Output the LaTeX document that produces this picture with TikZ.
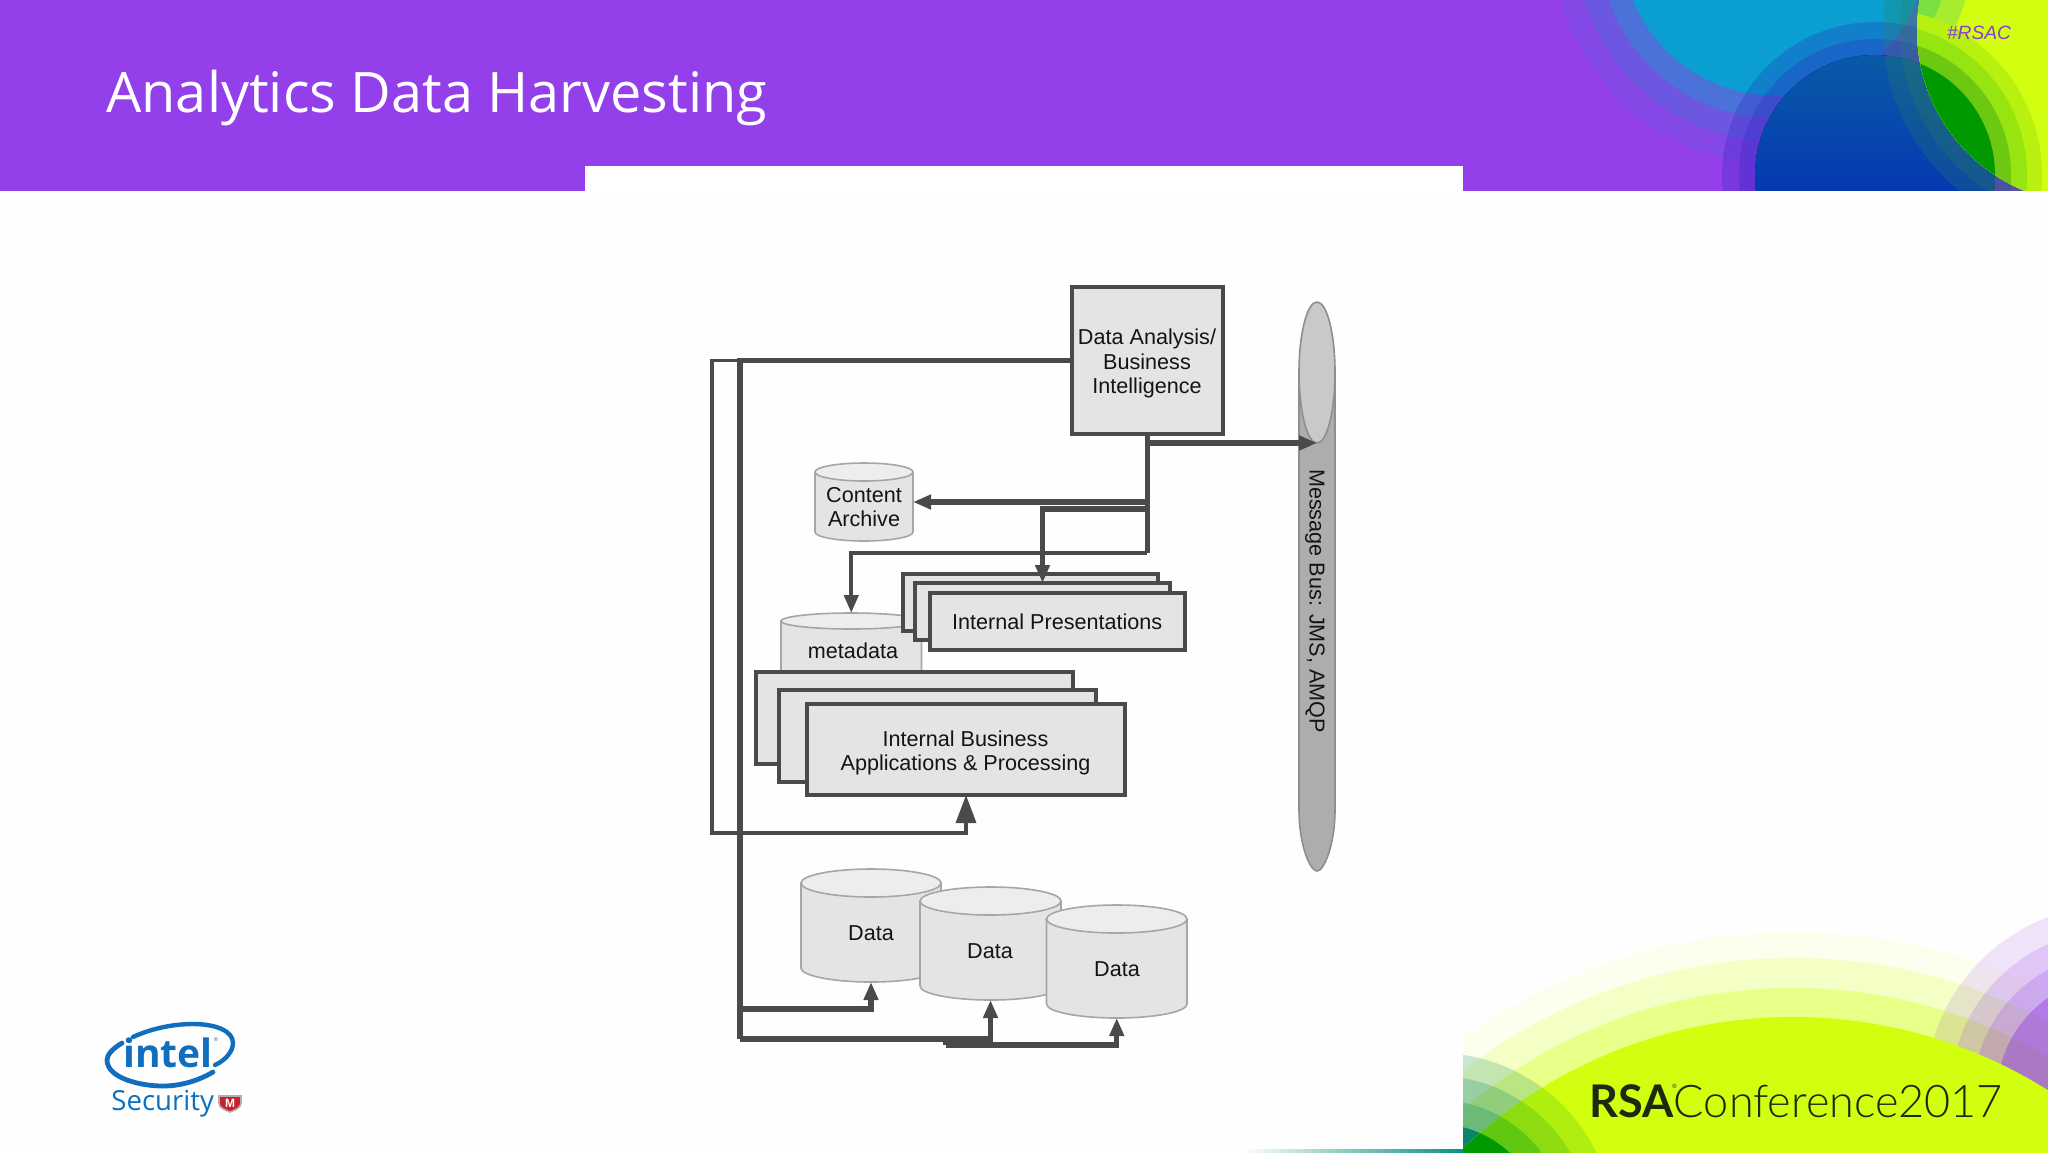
\documentclass[tikz,border=0pt]{standalone}
\usepackage{fontspec}
\setmainfont{Liberation Sans}
\newfontfamily\titlefont{Open Sans}
\newfontfamily\logofont{Open Sans}
\newfontfamily\rsalight{Lato Light}
\newfontfamily\rsabold{Lato}
\usetikzlibrary{arrows.meta,shapes.geometric}
\definecolor{hdrpurple}{HTML}{9340EA}
\definecolor{cyancore}{HTML}{0A9FD0}
\definecolor{ink}{HTML}{4A4A4A}
\definecolor{boxfill}{HTML}{E4E3E6}
\definecolor{cyllt}{HTML}{EDEDEF}
\definecolor{cylline}{HTML}{A6A6A6}
\definecolor{intelblue}{HTML}{0F6FBE}
\definecolor{lime}{HTML}{D2FF10}
\newcommand{\dc}[1]{\definecolor{c#1}{HTML}{#1}}
\dc{8448E6}\dc{6C58E0}\dc{4A72D8}\dc{2A20C0}\dc{0A5AA8}\dc{0020B8}\dc{2A8060}\dc{A8EC30}\dc{78E040}\dc{50C880}
\dc{B8F010}\dc{96E410}\dc{6CC810}\dc{009A00}\dc{8A3FD0}\dc{FCFFEE}\dc{F3FFC4}\dc{E8FF88}\dc{8C32E6}\dc{00806A}
\dc{B0EE10}\dc{8EDC10}\dc{60C810}\dc{0A9080}\dc{1E2A10}\dc{C8202E}\dc{B0B0B0}\dc{ADADAD}\dc{8E8E8E}\dc{C9C9C9}
\newcommand{\fs}[1]{\fontsize{#1}{#1}\selectfont}
\newcommand{\cyl}[7]{% name,x1,x2,top,bot,ry,linew
  \pgfmathsetmacro{\cx}{(#2+#3)/2}\pgfmathsetmacro{\rx}{(#3-#2)/2}%
  \pgfmathsetmacro{\ta}{#4+#6}\pgfmathsetmacro{\ba}{#5-#6}%
  \pgfmathsetmacro{\ka}{\ba+0.55*#6}\pgfmathsetmacro{\kb}{\cx-0.55*\rx}\pgfmathsetmacro{\kc}{\cx+0.55*\rx}%
  \draw[cylbody,line width=#7] (#2,\ta) -- (#2,\ba) .. controls (#2,\ka) and (\kb,#5) .. (\cx,#5) .. controls (\kc,#5) and (#3,\ka) .. (#3,\ba) -- (#3,\ta) -- cycle;
  \draw[cyltop,line width=#7] (\cx,\ta) ellipse [x radius=\rx,y radius=#6];
  \pgfmathsetmacro{\cy}{(#4+#5)/2}%
  \node[cylslot,minimum width=(#3-#2)*0.5pt,minimum height=(#5-#4)*0.5pt] (#1) at (\cx,\cy) {};
}
\tikzset{
  x=0.5pt,y=-0.5pt,
  cylbody/.style={fill=boxfill,draw=cylline},
  cyltop/.style={fill=cyllt,draw=cylline},
  cylslot/.style={inner sep=0,outer sep=0,rectangle},
  lbl/.style={font=\fs{10.8},text=black!92,align=center,inner sep=0,outer sep=0},
  sheet/.style={draw=ink,fill=boxfill,line width=2pt,rectangle,inner sep=0,outer sep=0},
  wire/.style={draw=ink,line width=2.7pt,line join=miter},
  thinwire/.style={draw=ink,line width=1.7pt,line join=miter},
  tipsm/.style={-{Triangle[length=9pt,width=7pt]}},
  tiplg/.style={-{Triangle[length=14pt,width=10pt]}},
}
\begin{document}
\begin{tikzpicture}
\useasboundingbox (0,0) rectangle (2048,1152);
\fill[white!99.5!black] (0,0) rectangle (2048,1152);
% ---------- header
\begin{scope}
\clip (0,0) rectangle (2048,190.7);
\fill[hdrpurple] (0,0) rectangle (2048,190.7);
\fill[c8448E6] (1775,-58) circle [radius=222];
\fill[c6C58E0] (1775,-58) circle [radius=199];
\fill[c4A72D8] (1775,-58) circle [radius=176];
\fill[cyancore] (1775,-58) circle [radius=153.5];
\fill[c2A20C0,opacity=.25] (1875,175) circle [radius=153];
\fill[c2A20C0,opacity=.25] (1875,175) circle [radius=136];
\fill[top color=c0A5AA8,bottom color=c0020B8] (1875,175) circle [radius=120];
\fill[c2A8060,opacity=.25] (2091,30) circle [radius=208];
\fill[c2A8060,opacity=.25] (2091,30) circle [radius=191];
\begin{scope}
\clip (2091,30) circle [radius=174];
\fill[lime] (1880,-20) rectangle (2048,191);
\fill[cA8EC30] (1775,-58) circle [radius=199];
\fill[c78E040] (1775,-58) circle [radius=176];
\fill[c50C880] (1775,-58) circle [radius=153.5];
\fill[cB8F010] (1875,175) circle [radius=167];
\fill[c96E410] (1875,175) circle [radius=152];
\fill[c6CC810] (1875,175) circle [radius=136];
\fill[c009A00] (1875,175) circle [radius=120];
\end{scope}
\end{scope}
\fill[white] (585,166) rectangle (1463,192);
\node[anchor=west,text=white,inner sep=0,font=\titlefont\fs{27.9}] (title) at (106,98) {Analytics Data Harvesting};
\node[text=c8A3FD0,inner sep=0,font=\itshape\fs{9.6}] (tag) at (1979,33) {\#RSAC};
% ---------- footer art
\begin{scope}
\clip (1463,900) rectangle (2048,1152);
\fill[cFCFFEE] (1793,1497) circle [radius=565];
\fill[cF3FFC4] (1793,1497) circle [radius=539];
\fill[cE8FF88] (1793,1497) circle [radius=509];
\fill[c8C32E6,opacity=.13] (2115,1095) circle [radius=190];
\fill[c8C32E6,opacity=.16] (2115,1095) circle [radius=165];
\fill[c8C32E6,opacity=.2] (2115,1095) circle [radius=142];
\fill[c8C32E6,opacity=.4] (2115,1095) circle [radius=118];
\fill[lime] (1793,1497) circle [radius=480];
\fill[c00806A,opacity=.2] (1437,1230) circle [radius=177];
\fill[c00806A,opacity=.22] (1437,1230) circle [radius=154];
\fill[c00806A,opacity=.25] (1437,1230) circle [radius=130];
\fill[c00806A,opacity=.9] (1437,1230) circle [radius=106];
\begin{scope}
\clip (1793,1497) circle [radius=480];
\fill[cB0EE10] (1437,1230) circle [radius=177];
\fill[c8EDC10] (1437,1230) circle [radius=154];
\fill[c60C810] (1437,1230) circle [radius=130];
\fill[c009A00] (1437,1230) circle [radius=106];
\end{scope}
\end{scope}
\fill[left color=white,right color=c0A9080] (1240,1149.5) rectangle (1463,1152);
\node[anchor=base west,inner sep=0,text=c1E2A10,font=\rsabold\bfseries\fs{22.5}] (rsa) at (1589,1117) {RSA\rlap{\kern-0.6pt\raisebox{14.5pt}{\normalfont\fs{3}®}}};
\node[anchor=base west,inner sep=0,text=c1E2A10,font=\rsalight\fs{22.5}] (conf) at (1673.5,1117) {Conference2017};
% ---------- intel logo
\draw[intelblue,line width=2.4pt,line cap=round] (122,1043) .. controls (112,1049) and (107,1055) .. (107,1060) .. controls (107,1078) and (140,1086) .. (163,1086) .. controls (180,1086) and (198,1081) .. (213,1072);
\draw[intelblue,line width=2.2pt,line cap=round] (133,1037) .. controls (150,1029) and (172,1024) .. (193,1024) .. controls (216,1024) and (233,1031) .. (233,1043) .. controls (233,1051) and (226,1060) .. (215,1065);
\node[inner sep=0,text=intelblue,font=\logofont\bfseries\fs{19.5}] (intel) at (168,1053) {intel};
\node[inner sep=0,text=intelblue,font=\fs{2.8}] (intelreg) at (216,1040) {®};
\node[anchor=base west,inner sep=0,text=intelblue,font=\logofont\fs{13.8}] (security) at (111,1110) {Security};
\draw[fill=cC8202E,draw=cB0B0B0,line width=.8pt] (219,1096) -- (241,1096) -- (241,1103) .. controls (241,1108) and (235,1110) .. (230,1112) .. controls (225,1110) and (219,1108) .. (219,1103) -- cycle;
\node[inner sep=0,text=white,font=\bfseries\fs{6}] (shieldm) at (230,1103) {M};
% ---------- message bus
\draw[fill=cADADAD,draw=c8E8E8E,line width=.8pt] (1299,372) -- (1299,810) .. controls (1299,845) and (1310,871) .. (1317,871) .. controls (1324,871) and (1335,845) .. (1335,810) -- (1335,372) -- cycle;
\node[ellipse,draw=c8E8E8E,fill=cC9C9C9,line width=.8pt,inner sep=0,outer sep=0,minimum width=18pt,minimum height=70.5pt] (bustop) at (1317,372.5) {};
\node[lbl,rotate=-90] (buslabel) at (1315,601) {Message Bus: JMS, AMQP};
% ---------- stores and boxes
\node[sheet,minimum width=75.75pt,minimum height=73.5pt] (bi) at (1147.25,360.5) {};
\node[lbl] (bitext) at (1147,363.5) {Data Analysis/\\[1.3pt]Business\\[1.3pt]Intelligence};
\cyl{archive}{815}{913}{463}{541}{9}{0.8pt}
\node[lbl] (archivetext) at (864,507) {Content\\[0.9pt]Archive};
\cyl{meta}{781}{921.5}{613}{690}{8}{0.8pt}
\node[lbl] (metatext) at (853,651) {metadata};
\node[sheet,minimum width=127.5pt,minimum height=28.5pt] (ip1) at (1030.5,602.5) {};
\node[sheet,minimum width=127.5pt,minimum height=28.5pt] (ip2) at (1042.5,611.5) {};
\node[sheet,minimum width=127.25pt,minimum height=28.5pt,font=\fs{10.8},text=black!92] (ip3) at (1057.25,621.5) {Internal Presentations};
\node[sheet,minimum width=158.5pt,minimum height=46pt] (iba1) at (914.5,718) {};
\node[sheet,minimum width=158.5pt,minimum height=46pt] (iba2) at (937.5,736) {};
\node[sheet,minimum width=159pt,minimum height=45.5pt] (iba3) at (966,749.5) {};
\node[lbl] (ibatext) at (965.5,752.5) {Internal Business\\[1.3pt]Applications \& Processing};
\cyl{d1}{801}{941}{869}{982}{14}{0.8pt}
\node[lbl] (d1text) at (871,933) {Data};
\cyl{d2}{920}{1061}{887}{1000}{14}{0.8pt}
\node[lbl] (d2text) at (990,951) {Data};
\cyl{d3}{1046.5}{1187}{905}{1018}{14}{0.8pt}
\node[lbl] (d3text) at (1117,969) {Data};
% ---------- connector junctions
\coordinate (jtop) at (740,360.5);
\coordinate (jthin) at (712,360.5);
\coordinate (jthinb) at (712,833);
\coordinate (jthinc) at (966,833);
\coordinate (jbot) at (740,1039);
\coordinate (jd1) at (740,1009);
\coordinate (jd3) at (946,1039);
\coordinate (jd3b) at (946,1045);
\coordinate (jbus) at (1147.25,443);
\coordinate (jarch) at (1147.25,502);
\coordinate (jip) at (1147.25,509);
\coordinate (jipin) at (1042.5,583);
\coordinate (jmeta) at (1147.25,553);
% ---------- connectors
\draw[wire] (bi.west) -- (jtop) -- (jbot);
\draw[thinwire,tiplg] (jtop) -- (jthin) -- (jthinb) -- (jthinc) -- (iba3.south);
\draw[wire,tipsm] (jd1) -| (d1.south);
\draw[wire,tipsm] (jbot) -| (d2.south);
\draw[wire] (jd3) -- (jd3b);
\draw[wire,tipsm] (jd3b) -| (d3.south);
\draw[wire] (bi.south) -- (jmeta);
\draw[wire,tipsm] (jbus) -- (bustop.south);
\draw[wire,tipsm] (jarch) -- (archive.east);
\draw[wire,tipsm] (jip) -| (jipin);
\draw[thinwire,line width=2.1pt,tipsm] (jmeta) -| (meta.north);
\end{tikzpicture}
\end{document}
